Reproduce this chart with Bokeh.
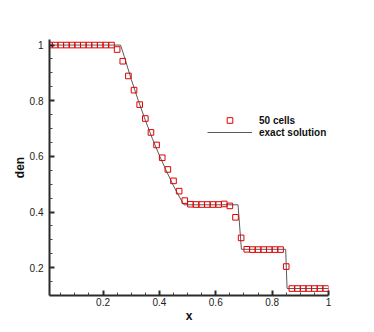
from bokeh.plotting import figure
from bokeh.models import Range1d, FixedTicker, Legend, LegendItem
from bokeh.embed import file_html
from bokeh.resources import INLINE

# numerical solution, 50 cells (cell centres)
cell_x = [0.01, 0.03, 0.05, 0.07, 0.09, 0.11, 0.13, 0.15, 0.17, 0.19,
          0.21, 0.23, 0.25, 0.27, 0.29, 0.31, 0.33, 0.35, 0.37, 0.39,
          0.41, 0.43, 0.45, 0.47, 0.49, 0.51, 0.53, 0.55, 0.57, 0.59,
          0.61, 0.63, 0.65, 0.67, 0.69, 0.71, 0.73, 0.75, 0.77, 0.79,
          0.81, 0.83, 0.85, 0.87, 0.89, 0.91, 0.93, 0.95, 0.97, 0.99]
cell_den = [1.0, 1.0, 1.0, 1.0, 1.0, 1.0, 1.0, 1.0, 1.0, 1.0,
            1.0, 1.0, 0.984, 0.942, 0.889, 0.838, 0.786, 0.736, 0.686, 0.641,
            0.595, 0.553, 0.512, 0.475, 0.441, 0.428, 0.427, 0.427, 0.427, 0.427,
            0.427, 0.429, 0.422, 0.381, 0.307, 0.266, 0.265, 0.265, 0.265, 0.265,
            0.265, 0.265, 0.204, 0.125, 0.125, 0.125, 0.125, 0.125, 0.125, 0.125]

# exact solution
exact_x = [0.01, 0.262, 0.275, 0.30, 0.325, 0.35, 0.375, 0.40, 0.425, 0.45,
           0.475, 0.487, 0.679, 0.691, 0.848, 0.853, 1.0]
exact_den = [1.0, 1.0, 0.960, 0.877, 0.801, 0.730, 0.664, 0.603, 0.547, 0.494,
             0.447, 0.426, 0.426, 0.266, 0.266, 0.125, 0.125]

x_ticks = [0.2, 0.4, 0.6, 0.8, 1.0]
x_tick_labels = ["0.2", "0.4", "0.6", "0.8", "1"]
x_minor = [0.05, 0.1, 0.15, 0.25, 0.3, 0.35, 0.45, 0.5, 0.55, 0.65, 0.7, 0.75, 0.85, 0.9, 0.95]
y_ticks = [0.2, 0.4, 0.6, 0.8, 1.0]
y_tick_labels = ["0.2", "0.4", "0.6", "0.8", "1"]
y_minor = [0.15, 0.25, 0.3, 0.35, 0.45, 0.5, 0.55, 0.65, 0.7, 0.75, 0.85, 0.9, 0.95]

FONT = "Liberation Sans"

p = figure(width=374, height=332, output_backend="svg", toolbar_location=None,
           x_range=Range1d(0.01, 1.0), y_range=Range1d(0.1, 1.02),
           min_border_left=49, min_border_right=46, min_border_top=39, min_border_bottom=37)
p.outline_line_color = None
p.xgrid.visible = False
p.ygrid.visible = False

line_r = p.line(exact_x, exact_den, line_color="#5a5a5a", line_width=1)
sq_r = p.scatter(cell_x, cell_den, marker="square", size=5.6, fill_color=None,
                 line_color="#e00000", line_width=1)

for ax, ticks, labels, minor in ((p.xaxis[0], x_ticks, x_tick_labels, x_minor),
                                 (p.yaxis[0], y_ticks, y_tick_labels, y_minor)):
    ax.ticker = FixedTicker(ticks=ticks, minor_ticks=minor)
    ax.major_label_overrides = {t: l for t, l in zip(ticks, labels)}
    ax.axis_line_color = "#2b2b2b"
    ax.axis_line_width = 2
    ax.major_tick_line_color = "#2b2b2b"
    ax.major_tick_line_width = 2
    ax.minor_tick_line_color = "#444444"
    ax.minor_tick_line_width = 1
    ax.major_tick_in = 5
    ax.major_tick_out = 0
    ax.minor_tick_in = 3
    ax.minor_tick_out = 0
    ax.major_label_text_font = FONT
    ax.major_label_text_font_size = "10px"
    ax.major_label_text_color = "#222222"
    ax.axis_label_text_font = FONT
    ax.axis_label_text_font_size = "12px"
    ax.axis_label_text_font_style = "bold"
    ax.axis_label_text_color = "#111111"

p.xaxis.axis_label = "x"
p.yaxis.axis_label = "den"
p.xaxis.major_label_standoff = 2
p.xaxis.axis_label_standoff = 0
p.yaxis.major_label_standoff = 6
p.yaxis.axis_label_standoff = 0

def make_legend(item, loc, gh):
    lg = Legend(items=[item], location=loc, orientation="vertical",
                padding=0, margin=0, spacing=0,
                glyph_width=45, glyph_height=gh, label_height=gh,
                label_standoff=7, border_line_color=None, background_fill_alpha=0,
                label_text_font=FONT, label_text_font_size="10px",
                label_text_font_style="bold", label_text_color="#111111")
    return lg

p.add_layout(make_legend(LegendItem(label="50 cells", renderers=[sq_r]), (158, 168), 14))
p.add_layout(make_legend(LegendItem(label="exact solution", renderers=[line_r]), (158, 157), 12))

open("out.html", "w").write(file_html(p, INLINE))
